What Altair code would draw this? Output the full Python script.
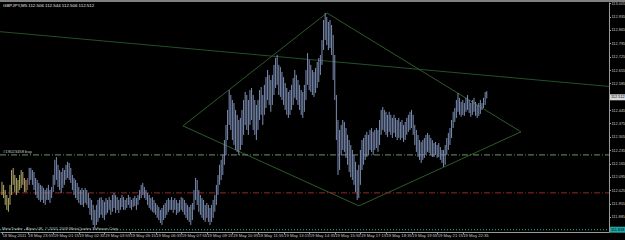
import altair as alt
import pandas as pd

# ---------------- data ----------------
bar_high = [
112.069,112.053,112.026,112.000,111.984,112.053,112.131,112.142,112.105,112.089,
112.079,112.105,112.131,112.121,112.089,112.079,112.089,112.142,112.142,112.131,
112.121,112.089,112.079,112.063,112.053,112.048,112.037,112.026,112.037,112.053,
112.026,112.042,112.105,112.184,112.199,112.158,112.131,112.121,112.142,112.131,
112.158,112.174,112.168,112.142,112.105,112.089,112.079,112.063,112.042,112.026,
112.037,112.026,112.037,112.026,112.010,111.984,111.974,111.948,111.922,111.948,
111.974,111.984,111.989,111.974,111.964,111.984,111.974,111.989,111.974,112.000,
112.010,112.000,111.989,111.974,111.984,112.000,111.989,111.974,111.984,112.000,
111.989,111.974,111.984,111.995,111.984,112.000,112.026,112.053,112.063,112.042,
112.026,112.010,112.000,111.984,111.989,111.974,111.958,111.948,111.937,111.922,
111.932,111.948,111.958,111.974,111.984,111.974,111.989,111.974,111.984,111.974,
111.958,111.974,111.989,111.984,111.974,111.958,111.948,111.937,111.948,111.958,
112.026,112.089,112.079,112.026,112.000,111.984,111.974,111.948,111.958,111.948,
111.932,111.948,111.974,112.000,112.053,112.105,112.158,112.184,112.210,112.288,
112.367,112.446,112.550,112.524,112.498,112.482,112.446,112.420,112.393,112.404,
112.446,112.498,112.540,112.524,112.498,112.550,112.561,112.524,112.498,112.472,
112.498,112.550,112.566,112.524,112.577,112.618,112.655,112.629,112.603,112.629,
112.682,112.718,112.734,112.682,112.671,112.645,112.618,112.587,112.561,112.540,
112.550,112.577,112.613,112.655,112.629,112.603,112.577,112.550,112.540,112.577,
112.655,112.744,112.708,112.682,112.655,112.645,112.666,112.697,112.718,112.734,
112.812,112.917,112.954,112.933,112.907,112.917,112.891,112.839,112.734,112.524,
112.393,112.341,112.367,112.393,112.383,112.351,112.315,112.288,112.262,112.236,
112.210,112.174,112.131,112.158,112.236,112.288,112.299,112.315,112.331,112.315,
112.341,112.351,112.331,112.341,112.351,112.341,112.393,112.446,112.461,112.446,
112.436,112.420,112.436,112.420,112.404,112.420,112.404,112.393,112.404,112.383,
112.393,112.367,112.383,112.404,112.420,112.436,112.446,112.420,112.367,112.341,
112.315,112.288,112.278,112.288,112.299,112.315,112.325,112.315,112.299,112.288,
112.272,112.278,112.262,112.272,112.251,112.236,112.236,112.262,112.299,112.325,
112.351,112.393,112.436,112.456,112.498,112.535,112.509,112.488,112.498,112.482,
112.509,112.524,112.498,112.482,112.498,112.509,112.488,112.472,112.482,112.498,
112.482,112.509,112.540,112.544]

bar_low = [
112.000,111.984,111.948,111.922,111.912,111.948,112.000,112.053,112.016,112.000,
112.010,112.026,112.037,112.053,112.016,112.016,112.026,112.053,112.079,112.053,
112.026,112.000,111.984,111.974,111.964,111.974,111.958,111.948,111.974,111.974,
111.958,111.984,112.016,112.053,112.079,112.042,112.026,112.010,112.037,112.053,
112.079,112.089,112.079,112.063,112.026,112.000,111.984,111.974,111.958,111.948,
111.948,111.937,111.958,111.948,111.932,111.896,111.869,111.843,111.827,111.843,
111.859,111.880,111.896,111.880,111.869,111.896,111.906,111.922,111.896,111.912,
111.932,111.906,111.922,111.906,111.922,111.937,111.922,111.922,111.932,111.948,
111.932,111.922,111.937,111.943,111.922,111.948,111.974,111.984,112.000,111.984,
111.974,111.948,111.932,111.922,111.912,111.906,111.896,111.880,111.869,111.853,
111.843,111.869,111.880,111.896,111.912,111.922,111.922,111.906,111.922,111.896,
111.906,111.912,111.922,111.912,111.896,111.880,111.869,111.859,111.843,111.869,
111.922,111.974,111.948,111.912,111.896,111.880,111.869,111.859,111.880,111.859,
111.843,111.859,111.880,111.912,111.948,112.000,112.053,112.079,112.105,112.158,
112.210,112.288,112.367,112.341,112.288,112.262,112.236,112.226,112.210,112.236,
112.262,112.315,112.367,112.341,112.315,112.367,112.393,112.341,112.315,112.288,
112.341,112.393,112.420,112.367,112.420,112.456,112.498,112.472,112.436,112.472,
112.524,112.561,112.577,112.524,112.514,112.498,112.472,112.446,112.420,112.404,
112.420,112.446,112.472,112.509,112.498,112.472,112.446,112.420,112.404,112.436,
112.498,112.577,112.550,112.540,112.524,112.514,112.535,112.561,112.592,112.629,
112.682,112.760,112.812,112.786,112.760,112.770,112.734,112.603,112.498,112.288,
112.105,112.131,112.210,112.236,112.226,112.194,112.158,112.121,112.094,112.079,
112.053,112.016,111.974,111.984,112.053,112.131,112.158,112.184,112.199,112.210,
112.236,112.226,112.210,112.236,112.246,112.226,112.262,112.315,112.341,112.331,
112.315,112.304,112.331,112.315,112.299,112.325,112.304,112.288,112.299,112.288,
112.299,112.278,112.288,112.315,112.331,112.341,112.351,112.315,112.262,112.226,
112.199,112.184,112.168,112.184,112.194,112.210,112.226,112.220,112.210,112.199,
112.199,112.210,112.194,112.199,112.184,112.168,112.147,112.158,112.210,112.236,
112.262,112.299,112.351,112.383,112.404,112.436,112.420,112.410,112.420,112.415,
112.436,112.446,112.430,112.410,112.420,112.436,112.415,112.404,112.415,112.425,
112.446,112.456,112.472,112.506]

prev_day_bars = 16          # bars of 18 May drawn in khaki, then one marker bar

time_tick_index = [0, 16, 32, 48, 64, 80, 96, 112, 128, 144, 160, 176, 192, 208, 224, 240, 256, 272, 288]
time_tick_labels = ["18 May 2011", "18 May 23:55", "19 May 01:15", "19 May 02:35", "19 May 03:55",
                    "19 May 05:15", "19 May 06:35", "19 May 07:55", "19 May 09:15", "19 May 10:35",
                    "19 May 11:55", "19 May 13:15", "19 May 14:35", "19 May 15:55", "19 May 17:15",
                    "19 May 18:35", "19 May 19:55", "19 May 21:15", "19 May 22:35"]

price_ticks = [113.005, 112.935, 112.865, 112.795, 112.725, 112.655, 112.585, 112.515, 112.445,
               112.375, 112.305, 112.235, 112.165, 112.095, 112.025, 111.955, 111.885, 111.815]
# grid labels hidden underneath the bid and the cyan price boxes
hidden_ticks = [112.515, 111.815]

trend_index = [-1.25, 379.4]
trend_price = [112.856, 112.569]

diamond_index = [113.1, 203.1, 324.4, 223.1, 113.1]
diamond_price = [112.362, 112.954, 112.331, 111.943, 112.362]

order_price = 112.210
stop_price = 112.011
cyan_price = 111.818
bid_price = 112.512

header_text = "GBPJPY,M5  112.506 112.544 112.506 112.512"
order_text = "#19023458 buy"
copyright_text = "MetaTrader - Alpari UK, \u00a9 2001-2009 MetaQuotes Software Corp."

assert len(bar_high) == len(bar_low)
n = len(bar_high)
session = ["prev"] * prev_day_bars + ["mark"] + ["cur"] * (n - prev_day_bars - 1)

df_bars = pd.DataFrame({"i": list(range(n)), "high": bar_high, "low": bar_low, "session": session})
df_trend = pd.DataFrame({"i": trend_index, "p": trend_price})
df_diamond = pd.DataFrame({"i": diamond_index, "p": diamond_price, "o": list(range(len(diamond_index)))})
df_time = pd.DataFrame({"i": time_tick_index, "t": time_tick_labels})

W, H = 609, 230
XS = alt.Scale(domain=[-1.25, 379.4], nice=False, zero=False)
YS = alt.Scale(domain=[111.806, 113.0115], nice=False, zero=False)
FONT = "Liberation Sans"
AX = "#9a9a9a"
LBL = "#c8c8c8"

hide_expr = " || ".join(f"abs(datum.value - {v}) < 0.0005" for v in hidden_ticks)
XAX = alt.Axis(orient="bottom", values=time_tick_index, labels=False, tickSize=2, tickColor=AX,
               domainColor=AX, grid=False, title=None)
YAX = alt.Axis(orient="right", values=price_ticks, format=".3f", labelFontSize=3.9, labelFont=FONT,
               labelColor=LBL, labelPadding=0.5, labelOverlap=False, labelFlush=False,
               labelExpr=f"({hide_expr}) ? '' : format(datum.value, '.3f')",
               tickSize=1.5, tickColor=AX, domainColor=AX, grid=False, title=None)

def X(field):
    return alt.X(field, scale=XS, axis=XAX)

def Y(field):
    return alt.Y(field, scale=YS, axis=YAX)

bars = alt.Chart(df_bars).mark_rule(strokeWidth=1).encode(
    x=X("i:Q"), y=Y("low:Q"), y2="high:Q",
    color=alt.Color("session:N", scale=alt.Scale(domain=["prev", "mark", "cur"],
                                                 range=["#b3ab6c", "#a04545", "#7d8fb6"]), legend=None),
)

def hline(price, color, dash):
    d = pd.DataFrame({"p": [price]})
    return alt.Chart(d).mark_rule(color=color, strokeWidth=1, strokeDash=dash).encode(
        y=Y("p:Q"), x=alt.value(0), x2=alt.value(W))

order_line = hline(order_price, "#6a946a", [6, 2, 1, 2])
stop_line = hline(stop_price, "#962828", [6, 2, 1, 2])
cyan_line = hline(cyan_price, "#2fb0b0", [1, 2])

trend = alt.Chart(df_trend).mark_line(color="#23502a", strokeWidth=1, clip=True).encode(
    x=X("i:Q"), y=Y("p:Q"))

diamond = alt.Chart(df_diamond).mark_line(color="#2e5a2a", strokeWidth=1).encode(
    x=X("i:Q"), y=Y("p:Q"), order="o:Q")

time_labels = alt.Chart(df_time).mark_text(align="left", baseline="middle", fontSize=4.2, font=FONT,
                                           color=LBL, dx=0.5).encode(
    x=X("i:Q"), y=alt.value(H + 3.8), text="t:N")

def price_box(price, bg, fg):
    d = pd.DataFrame({"p": [price], "t": [f"{price:.3f}"]})
    box = alt.Chart(d).mark_rule(color=bg, strokeWidth=6).encode(
        y=Y("p:Q"), x=alt.value(W + 1), x2=alt.value(W + 17))
    txt = alt.Chart(d).mark_text(align="left", baseline="middle", fontSize=3.9, font=FONT, color=fg).encode(
        y=Y("p:Q"), x=alt.value(W + 2), text="t:N")
    return box + txt

bid_box = price_box(bid_price, "#d8d8d8", "#000000")
cyan_box = price_box(cyan_price, "#20a8a8", "#000000")

header = alt.Chart(pd.DataFrame({"t": [header_text]})).mark_text(
    align="left", baseline="middle", fontSize=4.4, font=FONT, color="#e8e8e8").encode(
    x=alt.value(3), y=alt.value(4), text="t:N")

order_lbl = alt.Chart(pd.DataFrame({"p": [order_price], "t": [order_text]})).mark_text(
    align="left", baseline="bottom", fontSize=4.2, font=FONT, color=LBL, dy=-1).encode(
    x=alt.value(3), y=Y("p:Q"), text="t:N")

copyright_lbl = alt.Chart(pd.DataFrame({"t": [copyright_text]})).mark_text(
    align="left", baseline="middle", fontSize=4.0, font=FONT, color=LBL).encode(
    x=alt.value(2), y=alt.value(H - 3.5), text="t:N")

top_edge = alt.Chart(pd.DataFrame({"a": [0]})).mark_rule(color="#808080", strokeWidth=2).encode(
    x=alt.value(0), x2=alt.value(W + 16), y=alt.value(-1))

chart = alt.layer(
    top_edge, trend, diamond, order_line, stop_line, cyan_line, bars,
    time_labels, bid_box, cyan_box, header, order_lbl, copyright_lbl
).properties(
    width=W, height=H, background="#000000", autosize="none",
    padding={"left": 0, "top": 2, "right": 16, "bottom": 8},
).configure_view(stroke=None)

chart.save("out.html", embed_options={"renderer": "svg", "actions": False})
